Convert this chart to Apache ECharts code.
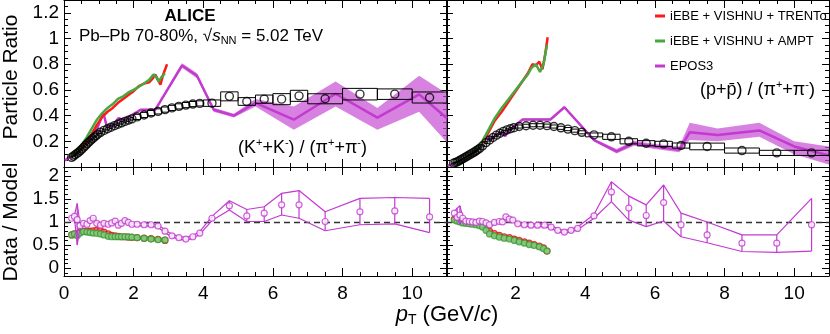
<!DOCTYPE html>
<html>
<head>
<meta charset="utf-8">
<script src="https://cdn.jsdelivr.net/npm/echarts@6/dist/echarts.min.js"></script>
<style>
html,body{margin:0;padding:0;background:#fff}
#chart{width:830px;height:334px}
</style>
</head>
<body>
<div id="chart"></div>
<script>
// ---- data: measured ratios (same pT bins for K/pi and p/pi) ----
var binX = [0.22,0.27,0.32,0.37,0.42,0.47,0.52,0.57,0.62,0.67,0.72,0.77,0.82,0.87,0.92,0.97,
  1.05,1.15,1.25,1.35,1.45,1.55,1.65,1.75,1.85,1.95,
  2.1,2.3,2.5,2.7,2.9,3.1,3.3,3.5,3.7,3.9,
  4.25,4.75,5.25,5.75,6.25,6.75,7.5,8.5,9.5,10.5];
var binHalf = [0.025,0.025,0.025,0.025,0.025,0.025,0.025,0.025,0.025,0.025,0.025,0.025,0.025,0.025,0.025,0.025,
  0.05,0.05,0.05,0.05,0.05,0.05,0.05,0.05,0.05,0.05,
  0.1,0.1,0.1,0.1,0.1,0.1,0.1,0.1,0.1,0.1,
  0.25,0.25,0.25,0.25,0.25,0.25,0.5,0.5,0.5,0.5];
var kpiVal = [0.075,0.085,0.095,0.105,0.115,0.128,0.14,0.155,0.168,0.182,0.195,0.208,0.22,0.232,0.243,0.255,
  0.27,0.285,0.298,0.31,0.322,0.333,0.344,0.355,0.365,0.375,
  0.39,0.405,0.42,0.433,0.447,0.46,0.472,0.482,0.49,0.495,
  0.497,0.55,0.51,0.528,0.528,0.554,0.531,0.567,0.567,0.541];
var kpiSys = [0.006,0.006,0.006,0.006,0.006,0.006,0.006,0.006,0.006,0.006,0.006,0.006,0.006,0.006,0.006,0.006,
  0.01,0.01,0.01,0.01,0.01,0.01,0.01,0.01,0.01,0.01,
  0.02,0.02,0.02,0.02,0.02,0.02,0.02,0.02,0.02,0.02,
  0.025,0.035,0.03,0.032,0.043,0.043,0.039,0.045,0.041,0.043];
var ppiVal = [0.03,0.035,0.04,0.047,0.055,0.062,0.07,0.078,0.086,0.094,0.102,0.11,0.118,0.127,0.136,0.146,
  0.165,0.19,0.21,0.23,0.248,0.263,0.277,0.289,0.298,0.306,
  0.315,0.321,0.325,0.325,0.322,0.315,0.305,0.295,0.283,0.27,
  0.25,0.235,0.2,0.185,0.18,0.167,0.16,0.128,0.11,0.11];
var ppiSys = [0.005,0.005,0.005,0.005,0.005,0.005,0.005,0.005,0.005,0.005,0.005,0.005,0.005,0.005,0.005,0.005,
  0.008,0.008,0.008,0.008,0.008,0.008,0.008,0.008,0.008,0.008,
  0.012,0.012,0.012,0.012,0.012,0.012,0.012,0.012,0.012,0.012,
  0.015,0.02,0.02,0.02,0.02,0.02,0.026,0.02,0.02,0.02];

// ---- models, K/pi ----
var trKx = [0.2,0.35,0.5,0.65,0.8,0.95,1.1,1.25,1.4,1.55,1.7,1.85,2.0,2.15,2.3,2.45,2.55,2.62,2.7,2.77,2.85,2.96];
var trK  = [0.08,0.11,0.15,0.2,0.26,0.33,0.39,0.43,0.46,0.5,0.53,0.56,0.59,0.63,0.65,0.66,0.69,0.72,0.68,0.64,0.72,0.80];
var amKx = [0.2,0.35,0.5,0.65,0.8,0.95,1.1,1.25,1.4,1.55,1.7,1.85,2.0,2.15,2.3,2.45,2.57,2.65,2.72,2.8,2.9];
var amK  = [0.085,0.12,0.17,0.23,0.3,0.37,0.42,0.46,0.49,0.53,0.55,0.58,0.6,0.625,0.65,0.68,0.72,0.7,0.665,0.7,0.73];
var epKx  = [0.03,0.2,0.45,0.75,0.95,1.13,1.23,1.42,1.56,1.71,1.95,2.2,2.62,3.39,3.82,4.3,4.88,5.5,6.6,7.8,9.0,10.2,11.0];
var epK   = [0.05,0.09,0.135,0.225,0.30,0.42,0.316,0.33,0.38,0.368,0.405,0.445,0.445,0.79,0.71,0.446,0.40,0.50,0.368,0.57,0.385,0.565,0.38];
var epKlo = [0.04,0.082,0.127,0.217,0.292,0.41,0.308,0.322,0.372,0.36,0.397,0.437,0.437,0.772,0.69,0.43,0.385,0.47,0.29,0.47,0.29,0.43,0.19];
var epKhi = [0.06,0.098,0.143,0.233,0.308,0.43,0.324,0.338,0.388,0.376,0.413,0.453,0.453,0.808,0.73,0.462,0.415,0.53,0.47,0.665,0.46,0.71,0.57];

// ---- models, p/pi ----
var trPx = [0.2,0.4,0.6,0.8,1.0,1.2,1.4,1.6,1.8,2.0,2.2,2.35,2.48,2.58,2.68,2.77,2.85,2.92];
var trP  = [0.02,0.04,0.07,0.11,0.17,0.26,0.36,0.43,0.51,0.59,0.67,0.73,0.8,0.79,0.82,0.76,0.88,1.01];
var amPx = [0.2,0.4,0.6,0.8,1.0,1.2,1.4,1.6,1.8,2.0,2.2,2.35,2.45,2.58,2.7,2.8,2.9];
var amP  = [0.02,0.04,0.075,0.12,0.18,0.28,0.38,0.46,0.53,0.6,0.67,0.72,0.77,0.8,0.74,0.8,0.95];
var epPx  = [0.05,0.3,0.5,0.7,0.9,1.1,1.2,1.3,1.45,1.6,1.7,1.8,2.2,3.0,3.4,4.25,4.9,5.4,6.0,6.7,7.0,7.8,9.0,10.0,11.0];
var epP   = [0.01,0.03,0.06,0.095,0.14,0.205,0.235,0.215,0.25,0.27,0.24,0.28,0.37,0.37,0.465,0.21,0.122,0.185,0.16,0.135,0.27,0.25,0.285,0.16,0.09];
var epPlo = [0.005,0.024,0.054,0.089,0.134,0.199,0.229,0.209,0.244,0.264,0.234,0.274,0.362,0.362,0.455,0.2,0.105,0.165,0.14,0.115,0.21,0.2,0.235,0.1,0.02];
var epPhi = [0.015,0.036,0.066,0.101,0.146,0.211,0.241,0.221,0.256,0.276,0.246,0.286,0.378,0.378,0.475,0.22,0.14,0.205,0.18,0.16,0.345,0.3,0.345,0.2,0.16];

// ---- data / model, K/pi ----
var rmKx  = [0.22,0.3,0.38,0.46,0.56,0.66,0.75,0.84,0.94,1.05,1.15,1.27,1.37,1.47,1.56,1.65,1.75,1.85,1.95,2.1,2.3,2.5,2.7,2.9,3.1,3.3,3.5,3.7,3.9,4.25,4.75,5.25,5.75,6.25,6.75,7.5,8.5,9.5,10.5];
var rmK   = [1.08,1.12,1.05,0.92,0.97,0.95,1.03,1.08,0.97,0.93,0.97,0.95,0.98,1.02,0.93,0.97,1.03,0.99,0.95,0.95,0.94,0.94,0.91,0.80,0.70,0.66,0.63,0.68,0.76,1.08,1.35,1.13,1.19,1.37,1.37,1.01,1.22,1.24,1.11];
var rmKlo = [1.05,1.09,0.5,0.89,0.94,0.92,1.0,1.05,0.94,0.9,0.94,0.92,0.95,0.99,0.9,0.94,1.0,0.96,0.92,0.92,0.91,0.91,0.88,0.77,0.67,0.63,0.6,0.65,0.73,1.03,1.26,1.01,1.01,1.15,1.08,0.81,0.94,0.96,0.77];
var rmKhi = [1.11,1.15,1.4,0.95,1.0,0.98,1.06,1.11,1.0,0.96,1.0,0.98,1.01,1.05,0.96,1.0,1.06,1.02,0.98,0.98,0.97,0.97,0.94,0.83,0.73,0.69,0.66,0.71,0.79,1.12,1.46,1.27,1.33,1.62,1.68,1.22,1.51,1.53,1.51];
var rhKx  = [0.22,0.3,0.38,0.46,0.56,0.66,0.75,0.84,0.94,1.05,1.15,1.27,1.37,1.47,1.56,1.65,1.75,1.85,1.95,2.1,2.3,2.5,2.7,2.9];
var rtK   = [0.72,0.74,0.75,0.78,0.8,0.8,0.8,0.81,0.82,0.81,0.78,0.74,0.71,0.7,0.69,0.68,0.68,0.67,0.665,0.66,0.65,0.64,0.625,0.6];
var raK   = [0.72,0.74,0.7,0.76,0.79,0.78,0.77,0.76,0.755,0.74,0.72,0.69,0.68,0.68,0.68,0.68,0.68,0.675,0.67,0.66,0.645,0.63,0.615,0.61];

// ---- data / model, p/pi ----
var rmPx  = [0.24,0.32,0.4,0.48,0.57,0.67,0.76,0.86,0.96,1.05,1.15,1.25,1.39,1.53,1.62,1.72,1.82,1.92,2.06,2.25,2.44,2.63,2.83,3.02,3.21,3.4,3.59,3.78,4.25,4.75,5.25,5.75,6.25,6.75,7.5,8.5,9.5,10.5];
var rmP   = [1.19,1.1,1.15,1.08,1.02,1.01,1.0,0.99,1.02,1.01,0.98,0.94,0.99,1.01,1.0,1.11,1.06,1.04,0.96,0.94,0.93,0.93,0.93,0.89,0.82,0.78,0.82,0.86,1.13,1.65,1.3,1.14,1.42,0.94,0.72,0.54,0.54,0.94];
var rmPlo = [1.16,1.07,0.95,1.05,0.99,0.98,0.97,0.96,0.99,0.98,0.95,0.91,0.96,0.98,0.97,1.08,1.03,1.01,0.93,0.91,0.9,0.9,0.9,0.86,0.79,0.75,0.79,0.83,1.08,1.44,1.04,0.9,1.02,0.68,0.55,0.36,0.34,0.37];
var rmPhi = [1.22,1.3,1.35,1.11,1.05,1.04,1.03,1.02,1.05,1.04,1.01,0.97,1.02,1.04,1.03,1.14,1.09,1.07,0.99,0.97,0.96,0.96,0.96,0.92,0.85,0.81,0.85,0.89,1.16,1.87,1.56,1.37,1.8,1.19,1.0,0.72,0.72,1.51];
var rhPx  = [0.24,0.32,0.4,0.48,0.57,0.67,0.76,0.86,0.96,1.05,1.15,1.25,1.39,1.53,1.67,1.82,1.96,2.1,2.25,2.39,2.53,2.68,2.8,2.9];
var rtP   = [1.06,1.04,1.02,1.0,0.99,0.98,0.97,0.96,0.95,0.93,0.88,0.8,0.75,0.71,0.68,0.66,0.63,0.6,0.57,0.54,0.51,0.48,0.44,0.37];
var raP   = [1.04,1.02,1.0,0.98,0.97,0.96,0.95,0.94,0.92,0.89,0.82,0.74,0.70,0.67,0.65,0.63,0.6,0.57,0.54,0.51,0.49,0.46,0.42,0.37];

var TRENTO = 'iEBE + VISHNU + TRENTo';
var AMPT = 'iEBE + VISHNU + AMPT';
var EPOS = 'EPOS3';

var FONT = 'Liberation Sans';
var RED = '#ff1a1a', GREEN = '#46a83e', MAG = '#c23ad0', MAG_BAND = 'rgba(200,80,212,0.72)';

var chart = echarts.init(document.getElementById('chart'));

function pairs(xs, ys){
  var out = [];
  for(var i=0; i<xs.length; i++) out.push([xs[i], ys[i]]);
  return out;
}
function rows(){
  var cols = arguments, out = [];
  for(var i=0; i<cols[0].length; i++){
    var r = [];
    for(var k=0; k<cols.length; k++) r.push(cols[k][i]);
    out.push(r);
  }
  return out;
}

var grids = [
  {left:64, top:0, width:383, height:167},
  {left:446, top:0, width:383, height:167},
  {left:64, top:167, width:383, height:109},
  {left:446, top:167, width:383, height:109}
];

var black = {color:'#000', width:1};
var xAxes = [], yAxes = [];
grids.forEach(function(g, gi){
  var isBottom = gi >= 2;
  var isLeft = gi % 2 === 0;
  ['bottom','top'].forEach(function(pos){
    xAxes.push({
      type:'value', gridIndex:gi, position:pos, min:0, max:11, interval:2,
      splitLine:{show:false},
      axisLine:{show:true, onZero:false, lineStyle:black},
      axisTick:{show:true, inside:true, length:8, lineStyle:black},
      minorTick:{show:true, splitNumber:4, length:4, lineStyle:black},
      axisLabel:{show: isBottom && pos==='bottom', fontSize:19, fontFamily:FONT, color:'#000',
        margin:8, showMinLabel: gi===2, showMaxLabel:false}
    });
  });
  ['left','right'].forEach(function(pos){
    var y = {
      type:'value', gridIndex:gi, position:pos,
      splitLine:{show:false},
      axisLine:{show:true, onZero:false, lineStyle:black},
      axisTick:{show:true, inside:true, length:7, lineStyle:black},
      minorTick:{show:true, splitNumber: isBottom ? 5 : 4, length:4, lineStyle:black},
      axisLabel:{show: isLeft && pos==='left', fontSize:19, fontFamily:FONT, color:'#000',
        margin:5, showMinLabel:false, showMaxLabel:false}
    };
    if(isBottom){ y.min = -0.17; y.max = 2.19; y.splitNumber = 5; }
    else { y.min = 0; y.max = 1.3; y.interval = 0.2; }
    yAxes.push(y);
  });
});

function ax(gi){ return {xAxisIndex: 2*gi, yAxisIndex: 2*gi}; }

function band(gi, xs, lo, hi, color, z){
  return Object.assign({
    type:'custom', silent:true, clip:true, z:z,
    data:[[xs[0], lo[0]]],
    renderItem:function(params, api){
      var pts = [];
      for(var i=0; i<xs.length; i++) pts.push(api.coord([xs[i], hi[i]]));
      for(var j=xs.length-1; j>=0; j--) pts.push(api.coord([xs[j], lo[j]]));
      return {type:'polygon', shape:{points:pts}, style:{fill:color}};
    }
  }, ax(gi));
}
function curve(gi, name, xs, ys, color, width, z, opacity){
  return Object.assign({
    type:'line', name:name, data:pairs(xs, ys), showSymbol:false, symbol:'none',
    silent:true, z:z, itemStyle:{color:color},
    lineStyle:{color:color, width:width, opacity: opacity == null ? 1 : opacity}
  }, ax(gi));
}
function boxes(gi, xs, ys, hw, sys){
  return Object.assign({
    type:'custom', silent:true, clip:true, z:8,
    data:rows(xs, ys, hw, sys),
    renderItem:function(params, api){
      var x = api.value(0), y = api.value(1), w = api.value(2), s = api.value(3);
      var a = api.coord([x - w, y + s]), b = api.coord([x + w, y - s]);
      return {type:'rect', shape:{x:a[0], y:a[1], width:b[0]-a[0], height:b[1]-a[1]},
        style:{fill:'none', stroke:'#000', lineWidth:1}};
    }
  }, ax(gi));
}
function points(gi, xs, ys, color, fill, size, z, bw){
  return Object.assign({
    type:'scatter', data:pairs(xs, ys), symbol:'circle', symbolSize:size, silent:true, z:z,
    itemStyle:{color:fill, borderColor:color, borderWidth: bw || 1.2}
  }, ax(gi));
}
function errBars(gi, xs, lo, hi, color){
  return Object.assign({
    type:'custom', silent:true, clip:true, z:6,
    data:rows(xs, lo, hi),
    renderItem:function(params, api){
      var x = api.value(0);
      var a = api.coord([x, api.value(1)]), b = api.coord([x, api.value(2)]);
      return {type:'line', shape:{x1:a[0], y1:a[1], x2:b[0], y2:b[1]}, style:{stroke:color, lineWidth:1.2}};
    }
  }, ax(gi));
}
function unity(gi){
  var s = curve(gi, 'unity'+gi, [], [], '#000', 1, 3);
  s.markLine = {silent:true, symbol:'none', label:{show:false},
    lineStyle:{color:'#333', width:1.3, type:[6,4]}, data:[{yAxis:1}]};
  return s;
}

var series = [
  // top left: K/pi
  band(0, epKx, epKlo, epKhi, MAG_BAND, 2),
  curve(0, EPOS, epKx, epK, MAG, 2.5, 3),
  curve(0, TRENTO, trKx, trK, RED, 2.5, 4),
  curve(0, AMPT, amKx, amK, GREEN, 2.5, 5),
  boxes(0, binX, kpiVal, binHalf, kpiSys),
  points(0, binX, kpiVal, '#000', 'rgba(255,255,255,0)', 8, 9, 1.4),
  // top right: p/pi
  band(1, epPx, epPlo, epPhi, MAG_BAND, 2),
  curve(1, 'epos-p', epPx, epP, MAG, 2.5, 3),
  curve(1, 'trento-p', trPx, trP, RED, 2.5, 4),
  curve(1, 'ampt-p', amPx, amP, GREEN, 2.5, 5),
  boxes(1, binX, ppiVal, binHalf, ppiSys),
  points(1, binX, ppiVal, '#000', 'rgba(255,255,255,0)', 8, 9, 1.4),
  // bottom left
  unity(2),
  curve(2, 'rt-k', rhKx, rtK, RED, 4, 4, 0.9),
  points(2, rhKx, rtK, '#e01010', '#ff6a6a', 6, 4),
  curve(2, 'ra-k', rhKx, raK, GREEN, 4, 5, 0.9),
  points(2, rhKx, raK, '#3a9a33', '#8fd08a', 6, 5),
  curve(2, 'rm-k-lo', rmKx, rmKlo, MAG, 1.2, 6),
  curve(2, 'rm-k-hi', rmKx, rmKhi, MAG, 1.2, 6),
  errBars(2, rmKx, rmKlo, rmKhi, MAG),
  points(2, rmKx, rmK, MAG, '#fff', 6, 7),
  // bottom right
  unity(3),
  curve(3, 'rt-p', rhPx, rtP, RED, 4, 4, 0.9),
  points(3, rhPx, rtP, '#e01010', '#ff6a6a', 6, 4),
  curve(3, 'ra-p', rhPx, raP, GREEN, 4, 5, 0.9),
  points(3, rhPx, raP, '#3a9a33', '#8fd08a', 6, 5),
  curve(3, 'rm-p-lo', rmPx, rmPlo, MAG, 1.2, 6),
  curve(3, 'rm-p-hi', rmPx, rmPhi, MAG, 1.2, 6),
  errBars(3, rmPx, rmPlo, rmPhi, MAG),
  points(3, rmPx, rmP, MAG, '#fff', 6, 7)
];

var txt = {fill:'#000', fontFamily:FONT};
function rich(size){
  return {
    n:{fontSize:size, fontFamily:FONT, fill:'#000', lineHeight:size+3},
    i:{fontSize:size, fontFamily:FONT, fontStyle:'italic', fill:'#000', lineHeight:size+3},
    sup:{fontSize:Math.round(size*0.62), fontFamily:FONT, fill:'#000', verticalAlign:'top', lineHeight:Math.round(size*0.62)},
    sub:{fontSize:Math.round(size*0.62), fontFamily:FONT, fill:'#000', verticalAlign:'bottom', lineHeight:Math.round(size*0.62)}
  };
}

var graphic = [
  {type:'text', x:190, y:16, style:Object.assign({text:'ALICE', fontSize:17, fontWeight:'bold', align:'center', verticalAlign:'middle'}, txt)},
  {type:'text', x:79, y:36, style:{text:'{n|Pb\u2013Pb 70-80%, \u221A}{i|s}{sub|NN}{n| = 5.02 TeV}', rich:rich(17), align:'left', verticalAlign:'middle'}},
  {type:'text', x:238, y:148, style:{text:'{n|(K}{sup|+}{n|+K}{sup|-}{n|) / (\u03C0}{sup|+}{n|+\u03C0}{sup|-}{n|)}', rich:rich(18), align:'left', verticalAlign:'middle'}},
  {type:'text', x:700, y:90, style:{text:'{n|(p+p\u0304) / (\u03C0}{sup|+}{n|+\u03C0}{sup|-}{n|)}', rich:rich(18), align:'left', verticalAlign:'middle'}},
  {type:'text', x:11, y:77, rotation:Math.PI/2, style:Object.assign({text:'Particle Ratio', fontSize:21, align:'center', verticalAlign:'middle'}, txt)},
  {type:'text', x:11, y:222, rotation:Math.PI/2, style:Object.assign({text:'Data / Model', fontSize:21, align:'center', verticalAlign:'middle'}, txt)},
  {type:'text', x:447, y:315, style:{text:'{i|p}{sub|T}{n| (GeV/}{i|c}{n|)}', rich:rich(22), align:'center', verticalAlign:'middle'}}
];

chart.setOption({
  animation:false,
  backgroundColor:'#fff',
  grid:grids,
  xAxis:xAxes,
  yAxis:yAxes,
  legend:{
    data:[TRENTO, AMPT, EPOS], orient:'vertical', left:655, top:9,
    itemWidth:10, itemHeight:3, icon:'rect', itemGap:11, padding:0, selectedMode:false,
    textStyle:{fontSize:13, fontFamily:FONT, color:'#000', lineHeight:14}
  },
  series:series,
  graphic:graphic
});
</script>
</body>
</html>
